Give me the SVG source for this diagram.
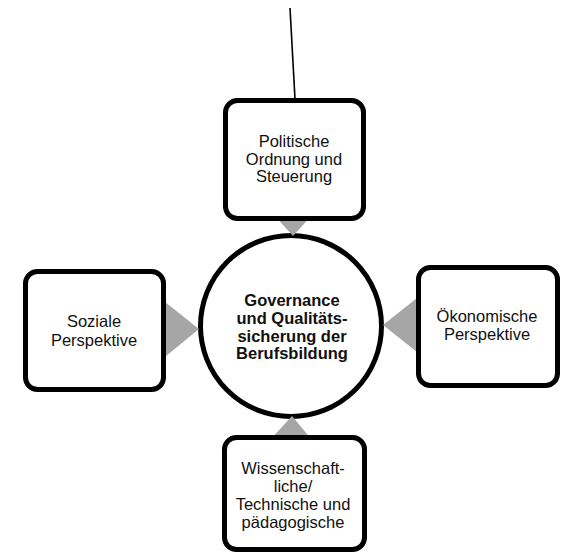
<svg xmlns="http://www.w3.org/2000/svg" width="562" height="555" viewBox="0 0 562 555">
<style>
.box{fill:#fff;stroke:#000;stroke-width:5}
.arr{fill:#a6a6a6;stroke:none}
.t{font-family:"Liberation Sans",Arial,sans-serif;font-size:16.5px;fill:#111;text-anchor:middle}
.b{font-weight:bold}
</style>
<rect width="562" height="555" fill="#fff"/>
<g id="center">
<circle class="box" cx="291" cy="326" r="90.5"/>
<text class="t b" x="292" y="306">Governance</text>
<text class="t b" x="292" y="324">und Qualitäts-</text>
<text class="t b" x="292" y="342">sicherung der</text>
<text class="t b" x="292" y="359">Berufsbildung</text>
</g>
<g id="connectors">
<line x1="290" y1="8" x2="295" y2="99" stroke="#000" stroke-width="1.6"/>
<polygon class="arr" points="274,215 312,215 293,236"/>
<polygon class="arr" points="160,298 160,361 199,329"/>
<polygon class="arr" points="422,294 422,356 383,325"/>
<polygon class="arr" points="270,440 312,440 292,416"/>
</g>
<g id="top">
<rect class="box" x="225.5" y="100.5" width="138" height="118" rx="12"/>
<text class="t" x="294" y="147">Politische</text>
<text class="t" x="294" y="165">Ordnung und</text>
<text class="t" x="294" y="182">Steuerung</text>
</g>
<g id="left">
<rect class="box" x="25.5" y="271.5" width="138" height="118" rx="12"/>
<text class="t" x="94" y="327">Soziale</text>
<text class="t" x="94" y="346">Perspektive</text>
</g>
<g id="right">
<rect class="box" x="418.5" y="267.5" width="139" height="118" rx="12"/>
<text class="t" x="487" y="322">Ökonomische</text>
<text class="t" x="487" y="340">Perspektive</text>
</g>
<g id="bottom">
<rect class="box" x="224.5" y="437.5" width="140" height="112" rx="12"/>
<text class="t" x="293" y="474">Wissenschaft-</text>
<text class="t" x="293" y="492">liche/</text>
<text class="t" x="293" y="510">Technische und</text>
<text class="t" x="293" y="528">pädagogische</text>
</g>
</svg>
